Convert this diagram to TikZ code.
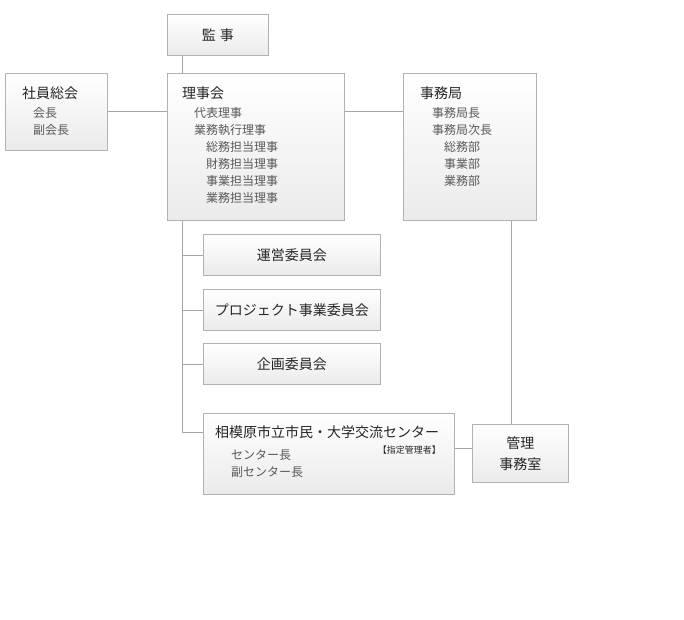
\documentclass[tikz,border=0pt]{standalone}
\usepackage{fontspec}
\setmainfont{Noto Sans CJK JP}
\begin{document}
\begin{tikzpicture}[x=1pt,y=-1pt,
  box/.style={draw=black!30, line width=0.9pt, top color=white, bottom color=black!8, anchor=north west, inner sep=0pt, minimum width=#1},
  ttl/.style={anchor=base west, inner sep=0pt, text=black!85, font=\fontsize{14}{15}\selectfont},
  sub/.style={anchor=base west, inner sep=0pt, text=black!65, font=\fontsize{12}{13}\selectfont},
  ctr/.style={inner sep=0pt, text=black!85, font=\fontsize{14}{15}\selectfont},
  conn/.style={draw=black!35, line width=0.9pt}]
\useasboundingbox (0,0) rectangle (684,619);
% boxes
\node[box=101pt, minimum height=41pt] (kanji) at (167,14) {};
\node[box=102pt, minimum height=77pt] (shain) at (5,73) {};
\node[box=177pt, minimum height=147pt] (riji) at (167,73) {};
\node[box=133pt, minimum height=147pt] (jimu) at (403,73) {};
\node[box=177pt, minimum height=41pt] (unei) at (203,234) {};
\node[box=177pt, minimum height=41pt] (proj) at (203,289) {};
\node[box=177pt, minimum height=41pt] (kikaku) at (203,343) {};
\node[box=251pt, minimum height=81pt] (center) at (203,413) {};
\node[box=96pt, minimum height=58pt] (kanri) at (472,424) {};
% helper coordinates
\coordinate (trunk) at (182,0);
\coordinate (jtrunk) at (511,0);
\coordinate (rowA) at (0,111);
\coordinate (rowC) at (0,432);
\coordinate (rowK) at (0,448);
\coordinate (bend) at (182,432);
% connectors
\draw[conn] (kanji.south -| trunk) -- (riji.north -| trunk);
\draw[conn] (shain.east |- rowA) -- (riji.west |- rowA);
\draw[conn] (riji.east |- rowA) -- (jimu.west |- rowA);
\draw[conn] (riji.south -| trunk) -- (bend) -- (center.west |- rowC);
\draw[conn] (unei.west -| trunk) -- (unei.west);
\draw[conn] (proj.west -| trunk) -- (proj.west);
\draw[conn] (kikaku.west -| trunk) -- (kikaku.west);
\draw[conn] (jimu.south -| jtrunk) -- (kanri.north -| jtrunk);
\draw[conn] (center.east |- rowK) -- (kanri.west |- rowK);
% texts
\node[ctr] (tKanji) at (kanji.center) {監\hspace{4pt}事};
\node[ttl] (tShain) at (22,98) {社員総会};
\node[sub] (s1) at (33,117) {会長};
\node[sub] (s2) at (33,134) {副会長};
\node[ttl] (tRiji) at (182,98) {理事会};
\node[sub] (r1) at (194,117) {代表理事};
\node[sub] (r2) at (194,134) {業務執行理事};
\node[sub] (r3) at (206,151) {総務担当理事};
\node[sub] (r4) at (206,168) {財務担当理事};
\node[sub] (r5) at (206,185) {事業担当理事};
\node[sub] (r6) at (206,202) {業務担当理事};
\node[ttl] (tJimu) at (420,98) {事務局};
\node[sub] (j1) at (432,117) {事務局長};
\node[sub] (j2) at (432,134) {事務局次長};
\node[sub] (j3) at (444,151) {総務部};
\node[sub] (j4) at (444,168) {事業部};
\node[sub] (j5) at (444,185) {業務部};
\node[ctr] (tUnei) at (unei.center) {運営委員会};
\node[ctr] (tProj) at (proj.center) {プロジェクト事業委員会};
\node[ctr] (tKikaku) at (kikaku.center) {企画委員会};
\node[ttl] (tCenter) at (215,437) {相模原市立市民・大学交流センター};
\node[anchor=base east, inner sep=0pt, text=black!85, font=\fontsize{9}{10}\selectfont] (tShitei) at (441,453) {【指定管理者】};
\node[sub] (c1) at (231,459) {センター長};
\node[sub] (c2) at (231,476) {副センター長};
\node[ctr, align=center, font=\fontsize{14}{21}\selectfont] (tKanri) at (kanri.center) {管理\\事務室};
\end{tikzpicture}
\end{document}
